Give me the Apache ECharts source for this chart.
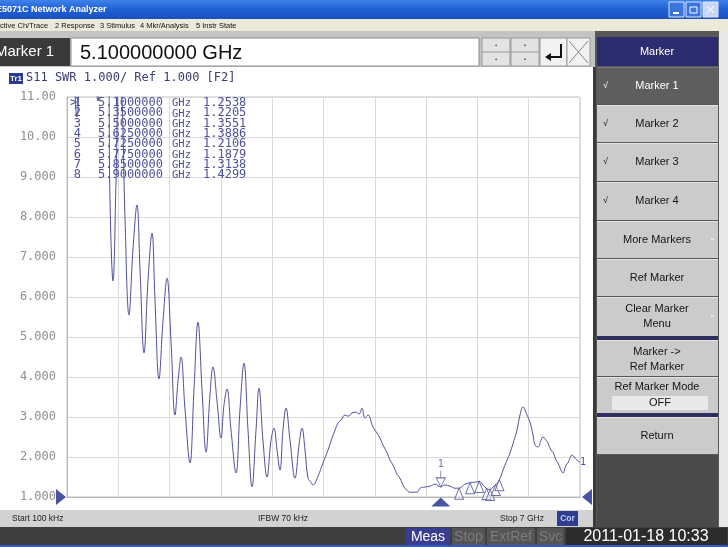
<!DOCTYPE html>
<html><head><meta charset="utf-8">
<script src="https://cdn.jsdelivr.net/npm/echarts/dist/echarts.min.js"></script>
<style>html,body{margin:0;padding:0;background:#fff}#c{width:728px;height:547px}</style>
</head><body><div id="c"></div>
<script>
// ---------- data ----------
const freqGHz = [
  0.0001,0.068,0.136,0.205,0.314,0.423,0.491,0.559,0.587,0.628,
  0.669,0.710,0.750,0.791,0.846,0.901,0.955,0.996,1.051,1.105,
  1.160,1.201,1.255,1.310,1.365,1.419,1.474,1.515,1.556,1.610,
  1.678,1.733,1.787,1.842,1.897,1.951,1.992,2.047,2.101,2.142,
  2.183,2.238,2.306,2.361,2.415,2.470,2.524,2.579,2.620,2.674,
  2.729,2.784,2.825,2.866,2.906,2.947,2.988,3.043,3.111,3.166,
  3.207,3.248,3.289,3.329,3.357,3.425,3.493,3.561,3.616,3.657,
  3.698,3.739,3.793,3.834,3.889,3.943,3.984,4.025,4.066,4.107,
  4.175,4.230,4.271,4.325,4.366,4.407,4.448,4.503,4.544,4.598,
  4.639,4.680,4.721,4.776,4.817,4.885,4.953,5.021,5.100,5.158,
  5.226,5.294,5.350,5.430,5.500,5.567,5.625,5.676,5.725,5.775,
  5.813,5.850,5.900,5.949,6.004,6.045,6.100,6.140,6.181,6.222,
  6.277,6.318,6.359,6.386,6.427,6.468,6.495,6.536,6.563,6.604,
  6.632,6.673,6.700,6.741,6.768,6.809,6.836,6.863,6.891,6.932,
  6.973,7.000
];
const swrS11 = [
  14,13,10.5,13,14,10.9,13,12.5,8.4,6.4,
  8.9,11.8,11.0,8.0,5.55,7.2,8.3,6.7,4.6,6.4,
  7.6,5.9,3.95,5.4,6.47,4.9,3.05,3.9,4.5,3.2,
  1.85,3.7,5.37,3.7,2.12,3.55,4.25,3.4,2.47,3.3,
  3.7,2.67,1.6,3.2,4.35,2.67,1.25,2.67,3.72,2.42,
  1.5,2.42,2.72,2.17,1.67,2.67,3.22,2.42,1.47,2.3,
  2.72,2.17,1.47,1.37,1.3,1.52,1.85,2.17,2.47,2.67,
  2.85,2.92,3.05,3.02,3.1,3.12,3.07,3.22,2.97,3.05,
  2.75,2.6,2.47,2.25,2.12,1.92,1.8,1.57,1.47,1.25,
  1.17,1.12,1.12,1.12,1.22,1.25,1.27,1.32,1.2538,1.3,
  1.27,1.22,1.2205,1.32,1.3551,1.37,1.3886,1.3,1.2106,1.1879,
  1.25,1.3138,1.4299,1.67,1.92,2.1,2.42,2.67,3.05,3.25,
  3.05,2.87,2.55,2.3,2.25,2.42,2.5,2.42,2.35,2.17,
  2.12,1.92,1.85,1.67,1.6,1.8,1.85,1.97,2.05,1.97,
  1.9,1.87
];
const markerNames = ['1','2','3','4','5','6','7','8'];
const markerFreqGHz = [5.1,5.35,5.5,5.625,5.725,5.775,5.85,5.9];
const markerSwr = [1.2538,1.2205,1.3551,1.3886,1.2106,1.1879,1.3138,1.4299];
const yTickValues = [1,2,3,4,5,6,7,8,9,10,11];
const yTickLabels = ['1.000','2.000','3.000','4.000','5.000','6.000','7.000','8.000','9.000','10.00','11.00'];
const refLevel = 1.0;
const xStartGHz = 0.0001, xStopGHz = 7.0;
const menuItems = ['ctive Ch/Trace','2 Response','3 Stimulus','4 Mkr/Analysis','5 Instr State'];
const softkeyLabels = ['Marker 1','Marker 2','Marker 3','Marker 4','More Markers','Ref Marker','Clear Marker\nMenu','Marker ->\nRef Marker','Ref Marker Mode','Return'];
const statusItems = ['Meas','Stop','ExtRef','Svc'];
const dateText = '2011-01-18 10:33';

// ---------- layout helpers ----------
const MONO = '"DejaVu Sans Mono", monospace';
const SANS = '"Liberation Sans", Arial, sans-serif';
const TRACE = '#50509a';
const G = [];
function R(x,y,w,h,fill,z,stroke){ G.push({type:'rect',silent:true,z:(z===undefined?-10:z),shape:{x,y,width:w,height:h},style:{fill,stroke:stroke||null,lineWidth:stroke?1:0}}); }
function T(x,y,text,size,family,fill,align,weight,z){ G.push({type:'text',silent:true,z:(z===undefined?20:z),x,y,style:{text,fontSize:size,fontFamily:family,fill,align:align||'left',verticalAlign:'middle',fontWeight:weight||'normal'}}); }
function L(x1,y1,x2,y2,stroke,w,z){ G.push({type:'line',silent:true,z:(z===undefined?-5:z),shape:{x1,y1,x2,y2},style:{stroke,lineWidth:w||1}}); }

// window frame
G.push({type:'rect',silent:true,z:-10,shape:{x:0,y:0,width:728,height:19},style:{fill:new echarts.graphic.LinearGradient(0,0,0,1,[{offset:0,color:'#3f82ea'},{offset:0.5,color:'#2060d6'},{offset:1,color:'#1a50c0'}])}});
T(-4,10,'E5071C Network Analyzer',9,SANS,'#ffffff','left','bold');
R(669,2,15,15,'#3a74e0',-9,'#dfe8ff'); L(673,13,679,13,'#fff',2,21);
R(686,2,15,15,'#3a74e0',-9,'#dfe8ff'); G.push({type:'rect',silent:true,z:21,shape:{x:690,y:7,width:7,height:6},style:{fill:null,stroke:'#fff',lineWidth:1}});
R(703,2,15,15,'#c8d6f4',-9,'#dfe8ff'); L(707,6,714,13,'#eef',1.5,21); L(714,6,707,13,'#eef',1.5,21);
R(0,19,728,12,'#ece9d8');
const menuX = [0,55,100,140,196];
menuItems.forEach((m,i)=>T(menuX[i],25.5,m,7.5,SANS,'#111'));
R(0,31,728,516,'#c4c4c4');
R(719,31,9,497,'#e8e8e8',-9);

// entry bar
R(0,38,70,28,'#3a3a3a',-9);
T(-5,52,'Marker 1',15,SANS,'#ffffff');
R(71,38,408,28,'#ffffff',-9,'#8a8a8a');
T(80,53,markerFreqGHz[0].toFixed(9)+' GHz',20,SANS,'#111');
[482,511].forEach(x=>{ R(x,38,28,28,'#e2e2e2',-9,'#9a9a9a'); L(x,52,x+28,52,'#9a9a9a',1,-4); T(x+14,45,'•',6,SANS,'#333','center'); T(x+14,59,'•',6,SANS,'#333','center'); });
R(540,38,27,28,'#f2f2f2',-9,'#9a9a9a');
G.push({type:'polyline',silent:true,z:21,shape:{points:[[561,44],[561,57],[547,57]]},style:{stroke:'#111',lineWidth:2,fill:null}});
G.push({type:'polygon',silent:true,z:21,shape:{points:[[545,57],[551,53],[551,61]]},style:{fill:'#111'}});
R(567,38,23,28,'#f2f2f2',-9,'#9a9a9a'); L(569,41,588,63,'#888',1,21); L(588,41,569,63,'#888',1,21);

// softkey panel
R(595,31,124,497,'#585858',-9);
R(597,37,121,29,'#2c2c70',-8);
T(657,52,'Marker',11,SANS,'#ffffff','center');
const skTop = [67,105,143,182,221,259,297,340,377,417];
const skH   = [37,37,38,38,37,37,39,36,36,37];
softkeyLabels.forEach((lab,i)=>{
  const sel = i===0;
  R(597,skTop[i],121,skH[i],sel?'#5e5e5e':'#cbcbcb',-8);
  L(597,skTop[i]+0.5,718,skTop[i]+0.5,sel?'#777':'#e4e4e4',1,-7);
  const col = sel?'#ffffff':'#141414';
  if (i===8){
    T(657,skTop[i]+10,lab,11,SANS,col,'center');
    R(612,skTop[i]+19,96,14,'#e8e8e8',-7);
    T(660,skTop[i]+26,'OFF',11,SANS,'#141414','center');
  } else if (lab.indexOf('\n')>=0){
    const p = lab.split('\n');
    T(657,skTop[i]+12,p[0],11,SANS,col,'center');
    T(657,skTop[i]+27,p[1],11,SANS,col,'center');
  } else {
    T(657,skTop[i]+skH[i]/2,lab,11,SANS,col,'center');
  }
  if (i<4) T(603,skTop[i]+skH[i]/2,'√',9,SANS,col);
  if (i===4||i===6) T(711,skTop[i]+skH[i]/2,'▸',7,SANS,'#e8e8e8');
});
R(597,336,121,4,'#2e2e5c',-7);
R(597,413,121,4,'#2e2e5c',-7);
R(597,455,121,72,'#4a4a4a',-8);

// plot panel
R(0,67,593,443,'#ffffff',-9);
R(593,67,3,460,'#3a3a3a',-8);
R(9,73,14,11,'#2a3a8c',-7);
T(16,78.5,'Tr1',8,SANS,'#ffffff','center','bold');
T(26,78,'S11 SWR '+refLevel.toFixed(3)+'/ Ref '+refLevel.toFixed(3)+' [F2]',12,MONO,'#3a3c72');
markerNames.forEach((n,i)=>{
  const y = 103 + i*10.3;
  if (i===0) T(70,y,'>',12,MONO,TRACE);
  T(81,y,n,12,MONO,TRACE,'right');
  T(98,y,markerFreqGHz[i].toFixed(7),12,MONO,TRACE);
  T(172,y+0.5,'GHz',10.5,MONO,TRACE);
  T(203,y,markerSwr[i].toFixed(4),12,MONO,TRACE);
});

// status rows
R(0,510,593,17,'#d2d2d2',-8);
T(12,518.5,'Start 100 kHz',8.5,SANS,'#222');
T(258,518.5,'IFBW 70 kHz',8.5,SANS,'#222');
T(500,518.5,'Stop '+xStopGHz+' GHz',8.5,SANS,'#222');
R(557,511,21,15,'#2f3c90',-7);
T(567.5,518.5,'Cor',8.5,SANS,'#c0c8ff','center','bold');
R(0,527,728,18,'#3e3e3e',-8);
const stX=[406,452,487,537], stW=[44,33,48,27];
statusItems.forEach((s,i)=>{
  R(stX[i],528,stW[i],17,i===0?'#3a3e92':'#555555',-7);
  T(stX[i]+stW[i]/2,537,s,14,SANS,i===0?'#ffffff':'#7c7c7c','center');
});
R(566,528,161,17,'#2c2c2c',-7);
T(646,537,dateText,16,SANS,'#ffffff','center');
R(0,545,728,2,'#2a5bd0',-7);

// ---------- chart ----------
const chart = echarts.init(document.getElementById('c'), null, {renderer:'canvas'});
const traceData = freqGHz.map((f,i)=>[f, swrS11[i]]);
const mk = markerFreqGHz.map((f,i)=>({name:markerNames[i], value:[f, markerSwr[i]]}));
chart.setOption({
  animation:false,
  backgroundColor:'#c4c4c4',
  graphic:{elements:G},
  grid:{left:67,right:148,top:97,bottom:50,show:true,borderColor:'#c0c0c0',borderWidth:1,backgroundColor:'transparent'},
  xAxis:{type:'value',min:0,max:xStopGHz,interval:0.7,
    axisLabel:{show:false},axisTick:{show:false},
    axisLine:{lineStyle:{color:'#b8b8b8'}},
    splitLine:{lineStyle:{color:'#dadada',width:1}}},
  yAxis:{type:'value',min:yTickValues[0],max:yTickValues[yTickValues.length-1],interval:1,
    axisTick:{show:false},axisLine:{show:true,lineStyle:{color:'#b8b8b8'}},
    splitLine:{lineStyle:{color:'#dadada',width:1}},
    axisLabel:{margin:11,color:'#8e8e8e',fontFamily:MONO,fontSize:12,
      formatter:v=>yTickLabels[yTickValues.indexOf(v)]}},
  series:[
    {type:'line',data:traceData,symbol:'none',smooth:0.4,z:3,
      lineStyle:{color:TRACE,width:1},
      endLabel:{show:true,formatter:'1',color:TRACE,fontSize:10,fontFamily:MONO,distance:0}},
    {type:'scatter',data:mk.slice(1),symbol:'triangle',symbolSize:[9,11],symbolOffset:[0,5.5],z:4,clip:false,
      itemStyle:{color:'rgba(255,255,255,0.5)',borderColor:TRACE,borderWidth:1}},
    {type:'scatter',data:[mk[0]],symbol:'path://M5,0L5,7M0,7L10,7L5,16Z',symbolSize:[9,16],symbolOffset:[0,-8],z:5,clip:false,
      itemStyle:{color:'#ffffff',borderColor:TRACE,borderWidth:1},
      label:{show:true,position:'top',distance:1,formatter:'{b}',color:TRACE,fontSize:10,fontFamily:MONO}},
    {type:'scatter',data:[[markerFreqGHz[0],refLevel]],symbol:'triangle',symbolSize:[19,9],symbolOffset:[0,5],z:5,clip:false,
      itemStyle:{color:'#1c2a8c'}},
    {type:'scatter',clip:false,z:5,symbol:'triangle',symbolSize:[16,10],
      data:[{value:[0,refLevel],symbolRotate:-90,symbolOffset:[-6,0]},{value:[xStopGHz,refLevel],symbolRotate:90,symbolOffset:[7,0]}],
      itemStyle:{color:'#1c2a8c'}}
  ]
});
</script></body></html>
